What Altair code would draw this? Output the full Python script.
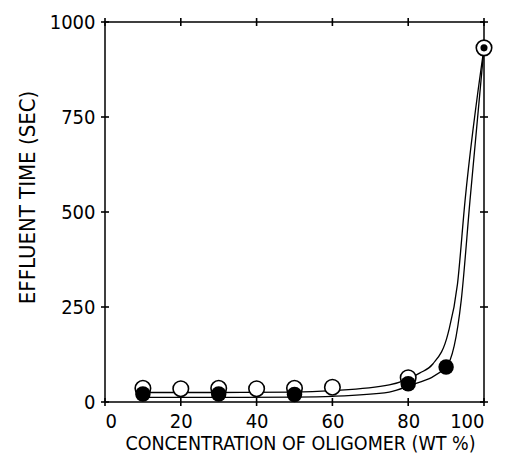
import altair as alt
import pandas as pd

# measured points
open_x = [10, 20, 30, 40, 50, 60, 80, 100]
open_y = [36, 35, 36, 35, 36, 39, 64, 932]
filled_x = [10, 30, 50, 80, 90, 100]
filled_y = [21, 21, 20, 48, 92, 932]

# fitted curves as drawn in the figure
open_curve_x = [10, 30, 50, 60, 75, 83, 86.5, 90.5, 93, 95, 100]
open_curve_y = [25, 25, 26, 30, 45, 76, 100, 180, 310, 530, 932]
filled_curve_x = [10, 30, 50, 60, 75, 80, 90, 94, 96.3, 100]
filled_curve_y = [12, 12, 13, 15, 26, 42, 92, 268, 530, 932]

x_ticks = [0, 20, 40, 60, 80, 100]
y_ticks = [0, 250, 500, 750, 1000]

FONT = "'DejaVu Sans Condensed', 'Roboto', sans-serif"
W, H = 379, 380
TL = 4  # half tick length

open_df = pd.DataFrame({"conc": open_x, "t": open_y})
filled_df = pd.DataFrame({"conc": filled_x, "t": filled_y})
curves_df = pd.concat([
    pd.DataFrame({"conc": open_curve_x, "t": open_curve_y, "s": "open"}),
    pd.DataFrame({"conc": filled_curve_x, "t": filled_curve_y, "s": "filled"}),
])
xt_df = pd.DataFrame({"conc": x_ticks})
yt_df = pd.DataFrame({"t": y_ticks})

xs = alt.Scale(domain=[0, 100], nice=False, zero=False)
ys = alt.Scale(domain=[0, 1000], nice=False, zero=False)

common = dict(grid=False, ticks=False, domain=False)

x_axis = alt.Axis(values=x_ticks, format="d", labelFont=FONT, labelFontSize=20,
                  labelColor="black", labelPadding=9, title="CONCENTRATION OF OLIGOMER (WT %)",
                  titleFont=FONT, titleFontSize=19.5, titleFontWeight="normal", titleColor="black",
                  titleX=195, titleY=41, titleBaseline="middle", titleAlign="center", **common)
y_axis = alt.Axis(values=y_ticks, format="d", labelFont=FONT, labelFontSize=20,
                  labelColor="black", labelPadding=10, title="EFFLUENT TIME (SEC)",
                  titleFont=FONT, titleFontSize=22, titleFontWeight="normal", titleColor="black",
                  titleX=-78, titleY=175, titleBaseline="middle", titleAlign="center", titleAngle=270,
                  **common)

lines = alt.Chart(curves_df).mark_line(interpolate="monotone", color="black", strokeWidth=1.3).encode(
    x=alt.X("conc:Q", scale=xs, axis=x_axis),
    y=alt.Y("t:Q", scale=ys, axis=y_axis),
    detail="s:N",
)

rule_style = dict(color="black", strokeWidth=1.6, opacity=1)
top_ticks = alt.Chart(xt_df).mark_rule(**rule_style).encode(
    x=alt.X("conc:Q", scale=xs), y=alt.value(-TL), y2=alt.value(TL))
bot_ticks = alt.Chart(xt_df).mark_rule(**rule_style).encode(
    x=alt.X("conc:Q", scale=xs), y=alt.value(H - TL), y2=alt.value(H + TL))
left_ticks = alt.Chart(yt_df).mark_rule(**rule_style).encode(
    y=alt.Y("t:Q", scale=ys), x=alt.value(-TL), x2=alt.value(TL))
right_ticks = alt.Chart(yt_df).mark_rule(**rule_style).encode(
    y=alt.Y("t:Q", scale=ys), x=alt.value(W - TL), x2=alt.value(W + TL))

open_pts = alt.Chart(open_df).mark_point(shape="circle", filled=True, fill="white", stroke="black",
                                         strokeWidth=1.6, size=240, opacity=1).encode(
    x=alt.X("conc:Q", scale=xs),
    y=alt.Y("t:Q", scale=ys),
)

filled_pts = alt.Chart(filled_df).mark_point(shape="circle", filled=True, color="black", opacity=1).encode(
    x=alt.X("conc:Q", scale=xs),
    y=alt.Y("t:Q", scale=ys),
    size=alt.condition(alt.datum.conc == 100, alt.value(50), alt.value(240)),
)

chart = alt.layer(lines, top_ticks, bot_ticks, left_ticks, right_ticks, open_pts, filled_pts).properties(
    width=W, height=H,
    autosize=alt.AutoSizeParams(type="none"),
    padding={"left": 97, "top": 14, "right": 13, "bottom": 60},
    background="white",
).configure_view(stroke="black", strokeWidth=1.5)

chart.save("out.html", embed_options={"renderer": "svg", "actions": False})
